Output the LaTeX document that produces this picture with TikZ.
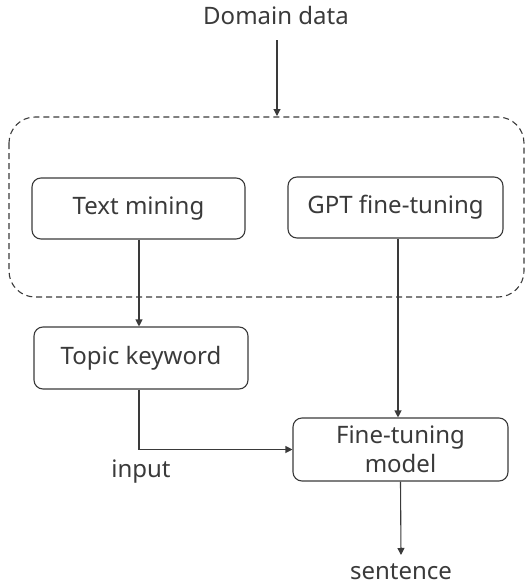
\documentclass[tikz,border=0pt]{standalone}
\usepackage{fontspec}
\setmainfont{Noto Sans}
\usetikzlibrary{arrows.meta}
\definecolor{ink}{HTML}{3A3A3A}
\tikzset{
  box/.style={draw=ink, line width=1.1pt, rounded corners=9pt, text=ink,
    font=\fontsize{24}{29}\selectfont, align=center, inner sep=0pt},
  link/.style={draw=ink, line width=1.1pt, -{Triangle[length=7pt,width=7pt]}},
  lbl/.style={text=ink, font=\fontsize{24}{29}\selectfont, inner sep=0pt, anchor=base}
}
\begin{document}
\begin{tikzpicture}[x=1pt, y=-1pt]
  \useasboundingbox (0,0) rectangle (526,587);
  % group frame around the two preprocessing steps
  \draw[ink, line width=1.1pt, dash pattern=on 6pt off 4pt, rounded corners=26pt]
    (9,117) rectangle (524,297);
  \node[lbl] (domain) at (276,24) {Domain data};
  \coordinate (domtip) at (277,40);
  \coordinate (frametop) at (277,116);
  \node[box, minimum width=213pt, minimum height=61pt] (mining) at (138.5,208.5) {Text mining};
  \node[box, minimum width=215pt, minimum height=61pt] (gpt) at (395.5,207.5) {GPT fine-tuning};
  \node[box, minimum width=214pt, minimum height=62pt] (topic) at (141,358) {Topic keyword};
  \node[box, minimum width=215pt, minimum height=63pt] (model) at (400.5,449.5) {Fine-tuning\\model};
  \node[lbl] (input) at (141,477) {input};
  \node[lbl] (sentence) at (401,579) {sentence};
  \coordinate (senttip) at (401,555);
  \draw[link] (domtip) -- (frametop);
  \draw[link] (mining.south -| 139,0) -- (topic.north -| 139,0);
  \draw[link] (gpt.south -| 398,0) -- (model.north -| 398,0);
  \draw[link] (topic.south -| 139,0) |- (model.west);
  \draw[link] (model.south) -- (senttip);
\end{tikzpicture}
\end{document}
